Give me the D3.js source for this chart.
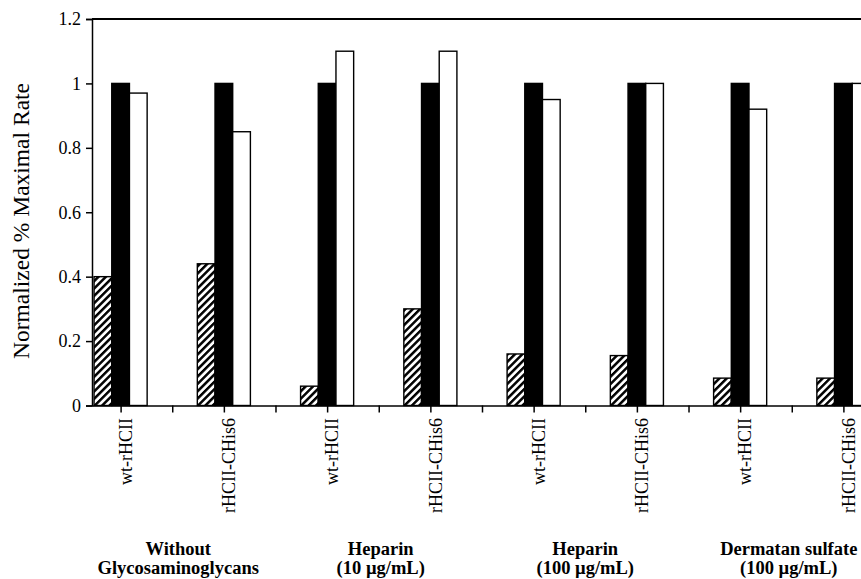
<!DOCTYPE html>
<html>
<head>
<meta charset="utf-8">
<script src="https://cdn.jsdelivr.net/npm/d3@7"></script>
<style>
  html, body { margin: 0; padding: 0; background: #fff; }
  svg { display: block; }
  text { font-family: "Liberation Serif", "Times New Roman", serif; fill: #000; }
</style>
</head>
<body>
<svg id="chart" width="861" height="579"></svg>
<script>
// Protein variant for each bar group
const categories = ["wt-rHCII", "rHCII-CHis6", "wt-rHCII", "rHCII-CHis6",
                    "wt-rHCII", "rHCII-CHis6", "wt-rHCII", "rHCII-CHis6"];
// Condition captions, one per pair of variants (two lines each)
const conditionLines = [
  ["Without", "Glycosaminoglycans"],
  ["Heparin", "(10 µg/mL)"],
  ["Heparin", "(100 µg/mL)"],
  ["Dermatan sulfate", "(100 µg/mL)"]
];
// Normalized rates, three series per variant
const series1 = [0.40, 0.44, 0.06, 0.30, 0.16, 0.155, 0.085, 0.085];
const series2 = [1.00, 1.00, 1.00, 1.00, 1.00, 1.00, 1.00, 1.00];
const series3 = [0.97, 0.85, 1.10, 1.10, 0.95, 1.00, 0.92, 1.00];
const seriesKeys = ["s1", "s2", "s3"];
// Y axis ticks and their printed labels
const yTickValues = [0, 0.2, 0.4, 0.6, 0.8, 1.0, 1.2];
const yTickLabels = ["0", "0.2", "0.4", "0.6", "0.8", "1", "1.2"];
const yTitle = "Normalized % Maximal Rate";

const svg = d3.select("#chart");
const plotLeft = 92, plotRight = 872, plotTop = 19, plotBottom = 405.5;

const y = d3.scaleLinear().domain([0, 1.2]).range([plotBottom, plotTop]);
const x = d3.scaleBand()
  .domain(d3.range(categories.length))
  .range([plotLeft, plotRight])
  .paddingInner(0.486)
  .paddingOuter(0.02);
const xs = d3.scaleBand().domain(seriesKeys).range([0, x.bandwidth()]);

const rows = categories.map((c, i) => ({
  i, s1: series1[i], s2: series2[i], s3: series3[i]
}));

// diagonal hatch fill
const defs = svg.append("defs");
const pat = defs.append("pattern")
  .attr("id", "hatch")
  .attr("patternUnits", "userSpaceOnUse")
  .attr("width", 5.2).attr("height", 5.2)
  .attr("patternTransform", "rotate(45)");
pat.append("rect").attr("width", 5.2).attr("height", 5.2).attr("fill", "#fff");
pat.append("rect").attr("width", 2.5).attr("height", 5.2).attr("fill", "#000");

const fills = { s1: "url(#hatch)", s2: "#000", s3: "#fff" };

// bars
const g = svg.append("g");
const groups = g.selectAll("g.grp").data(rows).join("g")
  .attr("class", "grp")
  .attr("transform", d => `translate(${x(d.i)},0)`);
groups.selectAll("rect").data(d => seriesKeys.map(k => ({ k, v: d[k] }))).join("rect")
  .attr("x", d => xs(d.k))
  .attr("width", xs.bandwidth())
  .attr("y", d => y(d.v))
  .attr("height", d => y(0) - y(d.v))
  .attr("fill", d => fills[d.k])
  .attr("stroke", "#000")
  .attr("stroke-width", 1.4);

// frame top and right
svg.append("line").attr("x1", plotLeft).attr("x2", plotRight).attr("y1", plotTop).attr("y2", plotTop)
  .attr("stroke", "#000").attr("stroke-width", 2);
svg.append("line").attr("x1", plotRight).attr("x2", plotRight).attr("y1", plotTop).attr("y2", plotBottom)
  .attr("stroke", "#000").attr("stroke-width", 1.5);

// y axis
const yAxis = d3.axisLeft(y)
  .tickValues(yTickValues)
  .tickFormat((d, i) => yTickLabels[i])
  .tickSize(6).tickPadding(5);
const ya = svg.append("g").attr("transform", `translate(${plotLeft},0)`).call(yAxis);
ya.select(".domain").attr("stroke-width", 1.5);
ya.selectAll(".tick line").attr("stroke-width", 1.5);
ya.selectAll("text").style("font-size", "18px").style("font-family", "Liberation Serif");

// x axis: ticks at each variant and midway between variants
const centers = d3.range(categories.length).map(i => x(i) + x.bandwidth() / 2);
const xl = d3.scaleLinear().domain([plotLeft, plotRight]).range([plotLeft, plotRight]);
const tickPositions = [];
centers.forEach(c => { tickPositions.push(c); if (c + x.step() / 2 < plotRight) tickPositions.push(c + x.step() / 2); });
const xAxis = d3.axisBottom(xl).tickValues(tickPositions).tickFormat("").tickSize(7).tickSizeOuter(0);
const xa = svg.append("g").attr("transform", `translate(0,${plotBottom})`).call(xAxis);
xa.select(".domain").attr("stroke-width", 1.5);
xa.selectAll(".tick line").attr("stroke-width", 1.5);

// rotated variant labels
svg.append("g").selectAll("text").data(categories).join("text")
  .attr("transform", (d, i) => `translate(${centers[i] + 5},418) rotate(-90)`)
  .attr("text-anchor", "end")
  .attr("dy", "0.35em")
  .style("font-size", "18px")
  .text(d => d);

// condition captions, nudged slightly so the last one stays inside the page
const captionNudge = [6, 2, 0, -3];
const cap = svg.append("g").selectAll("text").data(conditionLines).join("text")
  .attr("text-anchor", "middle")
  .attr("transform", (d, gi) => `translate(${(centers[2 * gi] + centers[2 * gi + 1]) / 2 + captionNudge[gi]},0)`)
  .style("font-size", "18.5px")
  .style("font-weight", "bold");
cap.selectAll("tspan").data(d => d).join("tspan")
  .attr("x", 0)
  .attr("y", (d, li) => 555 + li * 19)
  .text(d => d);

// y axis title
svg.append("text")
  .attr("transform", "translate(29,221) rotate(-90)")
  .attr("text-anchor", "middle")
  .style("font-size", "23.5px")
  .text(yTitle);
</script>
</body>
</html>
